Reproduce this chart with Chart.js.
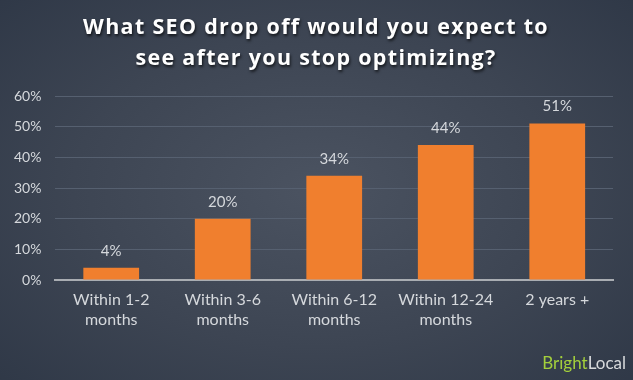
<!DOCTYPE html>
<html>
<head>
<meta charset="utf-8">
<script src="https://cdn.jsdelivr.net/npm/chart.js@4"></script>
<style>
  html, body { margin: 0; padding: 0; }
  body {
    width: 633px; height: 380px; overflow: hidden;
    background: radial-gradient(ellipse 70% 75% at 50% 50%, #4b5361 0%, #3d4553 55%, #2f3847 100%);
  }
  #wrap { width: 633px; height: 380px; }
</style>
</head>
<body>
<div id="wrap"><canvas id="myChart"></canvas></div>
<script>
let categories = [["Within 1-2", "months"], ["Within 3-6", "months"], ["Within 6-12", "months"], ["Within 12-24", "months"], ["2 years +"]];
let values = [4, 20, 34, 44, 51];
let tickValues = [0, 10, 20, 30, 40, 50, 60];
let titleLines = ["What SEO drop off would you expect to", "see after you stop optimizing?"];

const overlay = {
    id: 'overlay',
    afterDatasetsDraw(chart) {
        const ctx = chart.ctx;
        const meta = chart.getDatasetMeta(0);
        ctx.save();
        ctx.font = '15px Lato';
        ctx.fillStyle = '#d5d8dc';
        ctx.textAlign = 'center';
        ctx.textBaseline = 'middle';
        meta.data.forEach(function(bar, i) {
            ctx.fillText(values[i] + '%', bar.x, bar.y - 17);
        });
        ctx.restore();
    },
    afterDraw(chart) {
        const ctx = chart.ctx;
        ctx.save();
        ctx.font = 'bold 21.5px "Open Sans"';
        ctx.letterSpacing = '1.3px';
        ctx.fillStyle = '#ffffff';
        ctx.textAlign = 'center';
        ctx.textBaseline = 'middle';
        ctx.shadowColor = 'rgba(0,0,0,0.7)';
        ctx.shadowOffsetX = 1;
        ctx.shadowOffsetY = 2;
        ctx.shadowBlur = 3;
        ctx.fillText(titleLines[0], 316, 28);
        ctx.fillText(titleLines[1], 316, 59);
        ctx.restore();

        ctx.save();
        ctx.font = '17px Lato';
        ctx.textBaseline = 'alphabetic';
        ctx.textAlign = 'left';
        const w1 = ctx.measureText('Bright').width;
        const w2 = ctx.measureText('Local').width;
        const x0 = 626 - w1 - w2;
        ctx.fillStyle = '#a3cf3c';
        ctx.fillText('Bright', x0, 369);
        ctx.fillStyle = '#d8dadc';
        ctx.fillText('Local', x0 + w1, 369);
        ctx.restore();
    }
};

const config = {
    type: 'bar',
    data: {
        labels: categories,
        datasets: [{
            data: values,
            backgroundColor: '#f07f2e',
            categoryPercentage: 1.0,
            barPercentage: 0.5
        }]
    },
    options: {
        responsive: false,
        animation: false,
        layout: { padding: { top: 96, right: 20, bottom: 48, left: 0 } },
        plugins: {
            legend: { display: false },
            title: { display: false },
            tooltip: { enabled: false }
        },
        scales: {
            x: {
                grid: { display: false },
                border: { color: '#a9adb2', width: 2 },
                ticks: {
                    color: '#d5d8dc',
                    font: { family: 'Lato', size: 16, lineHeight: 1.25 },
                    maxRotation: 0,
                    padding: 2
                }
            },
            y: {
                min: 0,
                max: 60,
                afterBuildTicks(axis) {
                    axis.ticks = tickValues.map(v => ({ value: v }));
                },
                grid: { color: '#566070', lineWidth: 1, drawTicks: false },
                border: { display: false },
                ticks: {
                    color: '#d5d8dc',
                    font: { family: 'Lato', size: 14 },
                    padding: 14,
                    callback: v => v + '%'
                }
            }
        }
    },
    plugins: [overlay]
};

const canvas = document.getElementById('myChart');
canvas.width = 633;
canvas.height = 380;
const chart = new Chart(canvas, config);
</script>
</body>
</html>
